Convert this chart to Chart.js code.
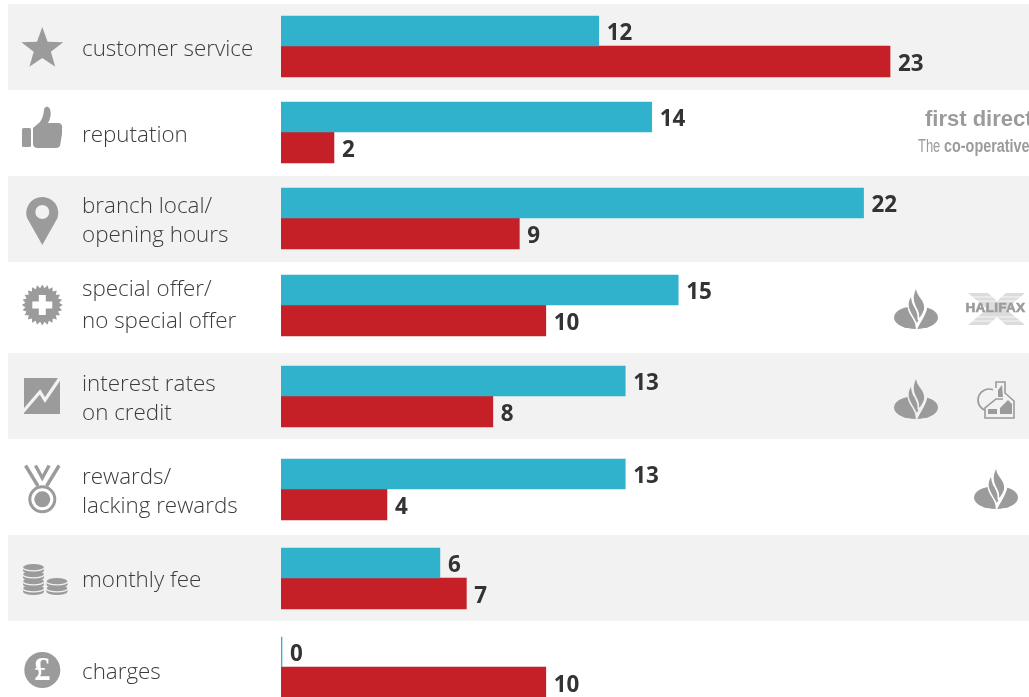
<!DOCTYPE html>
<html>
<head>
<meta charset="utf-8">
<style>
  html, body { margin: 0; padding: 0; background: #fff; }
  canvas { display: block; }
</style>
<script src="https://cdn.jsdelivr.net/npm/chart.js@4"></script>
</head>
<body>
<canvas id="reasonsChart" width="1029" height="697"></canvas>
<script>
// reasons given, one row each
const categories = [
    ["customer service"],
    ["reputation"],
    ["branch local/", "opening hours"],
    ["special offer/", "no special offer"],
    ["interest rates", "on credit"],
    ["rewards/", "lacking rewards"],
    ["monthly fee"],
    ["charges"]
];
const positiveValues = [12, 14, 22, 15, 13, 13, 6, 0];
const negativeValues = [23, 2, 9, 10, 8, 4, 7, 10];

// layout: rows are not evenly spaced
const rowCentres = [46, 132, 218, 305, 396, 489, 578, 667];
const bandTops = [4, 176, 353, 535];
const labelLineY = [[50], [136], [207, 236], [290, 322], [385, 414], [478, 507], [581], [673]];
const pxPerUnit = 26.48;
const barLeft = 281;

const GREY = "#9a9b9a";
const BAND = "#f2f2f2";
const TEXT = "#3c3c3b";

class RowScale extends Chart.CategoryScale {
    getPixelForValue(value) {
        return rowCentres[Math.round(value)];
    }
}
RowScale.id = "rowScale";
RowScale.defaults = Chart.CategoryScale.defaults;
Chart.register(RowScale);

// ---- small grey icons in the left column ----
function star(ctx, cx, cy, R, r) {
    ctx.beginPath();
    for (let i = 0; i < 10; i++) {
        const rad = i % 2 ? r : R;
        const a = -Math.PI / 2 + i * Math.PI / 5;
        ctx.lineTo(cx + rad * Math.cos(a), cy + rad * Math.sin(a));
    }
    ctx.closePath();
    ctx.fill();
}

function thumb(ctx) {
    ctx.beginPath();
    ctx.roundRect(22, 128, 9, 19, 1.5);
    ctx.fill();
    ctx.beginPath();
    ctx.moveTo(33, 128);
    ctx.lineTo(40, 122);
    ctx.quadraticCurveTo(44, 116, 44, 109);
    ctx.quadraticCurveTo(47, 104, 50, 109);
    ctx.quadraticCurveTo(52, 116, 48, 123);
    ctx.lineTo(59, 123);
    ctx.quadraticCurveTo(63, 124, 62, 129);
    ctx.lineTo(62, 134);
    ctx.lineTo(60, 146);
    ctx.quadraticCurveTo(59, 148, 56, 148);
    ctx.lineTo(37, 148);
    ctx.quadraticCurveTo(33, 147, 33, 144);
    ctx.closePath();
    ctx.fill();
}

function pin(ctx) {
    const p = new Path2D();
    p.arc(42.3, 213, 16, Math.PI * 0.9, Math.PI * 0.1);
    p.lineTo(42.3, 245);
    p.closePath();
    p.moveTo(49.3, 212);
    p.arc(42.3, 212, 7, 0, Math.PI * 2);
    ctx.fill(p, "evenodd");
}

function badge(ctx, cx, cy) {
    ctx.beginPath();
    const n = 24;
    for (let i = 0; i < n * 2; i++) {
        const rad = i % 2 ? 17 : 20.5;
        const a = i * Math.PI / n;
        ctx.lineTo(cx + rad * Math.cos(a), cy + rad * Math.sin(a));
    }
    ctx.closePath();
    ctx.fill();
    ctx.fillStyle = "#fff";
    ctx.fillRect(cx - 10, cy - 3.5, 20, 7);
    ctx.fillRect(cx - 3.5, cy - 10, 7, 20);
    ctx.fillStyle = GREY;
}

function trendSquare(ctx) {
    ctx.fillRect(24, 378, 36, 36);
    ctx.save();
    ctx.strokeStyle = BAND;
    ctx.lineWidth = 3.2;
    ctx.lineJoin = "miter";
    ctx.beginPath();
    ctx.moveTo(21, 414);
    ctx.lineTo(40, 392);
    ctx.lineTo(45, 400);
    ctx.lineTo(62, 375);
    ctx.stroke();
    ctx.restore();
}

function medal(ctx) {
    ctx.save();
    ctx.strokeStyle = GREY;
    ctx.lineWidth = 3;
    ctx.beginPath();
    ctx.arc(42.3, 499.3, 12.5, 0, Math.PI * 2);
    ctx.stroke();
    ctx.beginPath();
    ctx.arc(42.3, 499.3, 8, 0, Math.PI * 2);
    ctx.fill();
    ctx.lineWidth = 3.4;
    ctx.beginPath();
    ctx.moveTo(25.5, 465.5);
    ctx.lineTo(38, 486);
    ctx.moveTo(35.5, 465.5);
    ctx.lineTo(42.3, 478);
    ctx.lineTo(49.1, 465.5);
    ctx.moveTo(59.1, 465.5);
    ctx.lineTo(46.6, 486);
    ctx.stroke();
    ctx.restore();
}

function coinStack(ctx, cx, bottom, rx, layers) {
    for (let i = 0; i < layers; i++) {
        const y = bottom - 3.5 - i * 7;
        ctx.beginPath();
        ctx.ellipse(cx, y, rx, 3.6, 0, 0, Math.PI * 2);
        ctx.fill();
        ctx.fillRect(cx - rx, y - 3, rx * 2, 3);
        ctx.beginPath();
        ctx.ellipse(cx, y - 3, rx, 3.6, 0, 0, Math.PI * 2);
        ctx.fill();
        ctx.save();
        ctx.strokeStyle = BAND;
        ctx.lineWidth = 1.2;
        ctx.beginPath();
        ctx.ellipse(cx, y - 3.2, rx + 0.5, 3.6, 0, 0, Math.PI);
        ctx.stroke();
        ctx.restore();
    }
}

function pound(ctx) {
    ctx.beginPath();
    ctx.arc(42.3, 670, 18, 0, Math.PI * 2);
    ctx.fill();
    ctx.save();
    ctx.fillStyle = "#fff";
    ctx.font = "bold 33px 'Liberation Serif'";
    ctx.textAlign = "center";
    ctx.textBaseline = "middle";
    ctx.fillText("£", 42.3, 671);
    ctx.restore();
}

// ---- bank marks on the right ----
function flameLogo(ctx, cx, cy, bg) {
    ctx.save();
    ctx.translate(cx, cy);
    ctx.beginPath();
    ctx.ellipse(0, 0.5, 22, 11.5, 0, 0, Math.PI * 2);
    ctx.fill();
    // gap that the flame sits in
    ctx.strokeStyle = bg;
    ctx.lineCap = "round";
    ctx.lineWidth = 3;
    ctx.beginPath();
    ctx.moveTo(-7, -11);
    ctx.bezierCurveTo(-7, -3, 0, 0, 1, 9);
    ctx.bezierCurveTo(4, 3, 9, -3, 10, -11);
    ctx.stroke();
    // short ribbon
    ctx.beginPath();
    ctx.moveTo(-5, -20);
    ctx.bezierCurveTo(-11, -10, -4, -4, 1, 6);
    ctx.bezierCurveTo(5, -3, -4, -9, -5, -20);
    ctx.closePath();
    ctx.fill();
    // gap between the two ribbons
    ctx.beginPath();
    ctx.moveTo(-2, -15);
    ctx.bezierCurveTo(-1, -9, 4, -6, 3, 2);
    ctx.stroke();
    // tall ribbon
    ctx.beginPath();
    ctx.moveTo(0, -28);
    ctx.bezierCurveTo(1, -20, 9, -17, 8, -8);
    ctx.bezierCurveTo(7, -4, 5, -2, 3, 1);
    ctx.bezierCurveTo(5, -9, -7, -13, 0, -28);
    ctx.closePath();
    ctx.fill();
    ctx.restore();
}

function halifax(ctx) {
    ctx.save();
    ctx.fillStyle = "#dcdcdc";
    ctx.beginPath();
    ctx.moveTo(968, 293); ctx.lineTo(988, 293); ctx.lineTo(997, 301); ctx.lineTo(1006, 293);
    ctx.lineTo(1025, 293); ctx.lineTo(1006, 309); ctx.lineTo(1025, 325); ctx.lineTo(1006, 325);
    ctx.lineTo(997, 317); ctx.lineTo(988, 325); ctx.lineTo(968, 325); ctx.lineTo(987, 309);
    ctx.closePath();
    ctx.fill();
    ctx.fillStyle = "rgba(255,255,255,0.75)";
    [296.5, 300.5, 316.5, 320.5].forEach(y => ctx.fillRect(964, y, 65, 1));
    ctx.fillStyle = GREY;
    ctx.strokeStyle = GREY;
    ctx.lineWidth = 0.6;
    ctx.font = "bold 13.5px 'Liberation Sans'";
    ctx.textAlign = "center";
    ctx.textBaseline = "middle";
    ctx.letterSpacing = "0.3px";
    ctx.strokeText("HALIFAX", 995.5, 308.5);
    ctx.fillText("HALIFAX", 995.5, 308.5);
    ctx.restore();
}

function houseLogo(ctx) {
    ctx.save();
    ctx.strokeStyle = GREY;
    ctx.lineWidth = 1.6;
    ctx.beginPath();
    ctx.arc(989, 400, 11, Math.PI * 0.62, Math.PI * 1.62);
    ctx.stroke();
    ctx.beginPath();
    ctx.moveTo(996, 388);
    ctx.lineTo(996, 382);
    ctx.lineTo(1005, 382);
    ctx.lineTo(1005, 393);
    ctx.lineTo(1014, 401);
    ctx.lineTo(1014, 418);
    ctx.lineTo(985, 418);
    ctx.lineTo(985, 408);
    ctx.lineTo(996, 399);
    ctx.lineTo(1003, 399);
    ctx.stroke();
    ctx.beginPath();
    ctx.moveTo(998, 390); ctx.lineTo(1002, 385); ctx.lineTo(1003, 397); ctx.lineTo(998, 397);
    ctx.closePath();
    ctx.fill();
    ctx.beginPath();
    ctx.moveTo(1000, 408); ctx.lineTo(1008, 400); ctx.lineTo(1012, 404);
    ctx.lineTo(1012, 414); ctx.lineTo(1000, 414);
    ctx.closePath();
    ctx.fill();
    ctx.fillRect(988, 409, 9, 5);
    ctx.restore();
}

function squeezedText(ctx, text, x, y, sx) {
    ctx.save();
    ctx.translate(x, y);
    ctx.scale(sx, 1);
    ctx.fillText(text, 0, 0);
    ctx.restore();
}

const rowArtwork = {
    id: "rowArtwork",
    beforeDatasetsDraw(chart) {
        const ctx = chart.ctx;
        ctx.save();
        ctx.fillStyle = BAND;
        bandTops.forEach(top => ctx.fillRect(8, top, 1021, 86));

        ctx.fillStyle = GREY;
        star(ctx, 42.3, 49, 22, 9);
        thumb(ctx);
        pin(ctx);
        badge(ctx, 42.3, 305);
        trendSquare(ctx);
        medal(ctx);
        coinStack(ctx, 33.5, 595, 10.5, 4);
        coinStack(ctx, 57, 595, 10.5, 2);
        pound(ctx);

        flameLogo(ctx, 916, 317, "#fff");
        flameLogo(ctx, 916, 407, BAND);
        flameLogo(ctx, 996, 497, "#fff");
        halifax(ctx);
        houseLogo(ctx);

        ctx.textAlign = "left";
        ctx.textBaseline = "alphabetic";
        ctx.font = "bold 22px 'Liberation Sans'";
        ctx.fillText("first direct", 925, 126);
        ctx.font = "18px 'Liberation Sans'";
        squeezedText(ctx, "The", 918, 152, 0.72);
        ctx.font = "bold 18px 'Liberation Sans'";
        squeezedText(ctx, "co-operative", 944, 152, 0.8);

        // row names
        ctx.fillStyle = TEXT;
        ctx.font = "300 22.4px 'Open Sans'";
        ctx.textBaseline = "middle";
        categories.forEach((lines, i) => {
            lines.forEach((line, j) => ctx.fillText(line, 82, labelLineY[i][j]));
        });
        ctx.restore();
    },
    afterDatasetsDraw(chart) {
        // bold value at the end of each bar
        const ctx = chart.ctx;
        ctx.save();
        ctx.fillStyle = "#333";
        ctx.font = "bold 22.4px 'Open Sans'";
        ctx.textBaseline = "middle";
        ctx.textAlign = "left";
        chart.data.datasets.forEach((ds, d) => {
            chart.getDatasetMeta(d).data.forEach((bar, i) => {
                ctx.fillText(String(ds.data[i]), bar.x + 8, bar.y + 3);
            });
        });
        ctx.restore();
    }
};

new Chart(document.getElementById("reasonsChart"), {
    type: "bar",
    data: {
        labels: categories.map(c => c.join(" ")),
        datasets: [
            { label: "positive", data: positiveValues, backgroundColor: "#31b2cc", barThickness: 30 },
            { label: "negative", data: negativeValues, backgroundColor: "#c51f27", barThickness: 31 }
        ]
    },
    options: {
        indexAxis: "y",
        responsive: false,
        animation: false,
        events: [],
        layout: { padding: { left: barLeft } },
        minBarLength: 1,
        plugins: { legend: { display: false }, tooltip: { enabled: false } },
        scales: {
            x: { type: "linear", display: false, min: 0, max: (1029 - barLeft) / pxPerUnit },
            y: { type: "rowScale", display: false }
        }
    },
    plugins: [rowArtwork]
});
</script>
</body>
</html>
